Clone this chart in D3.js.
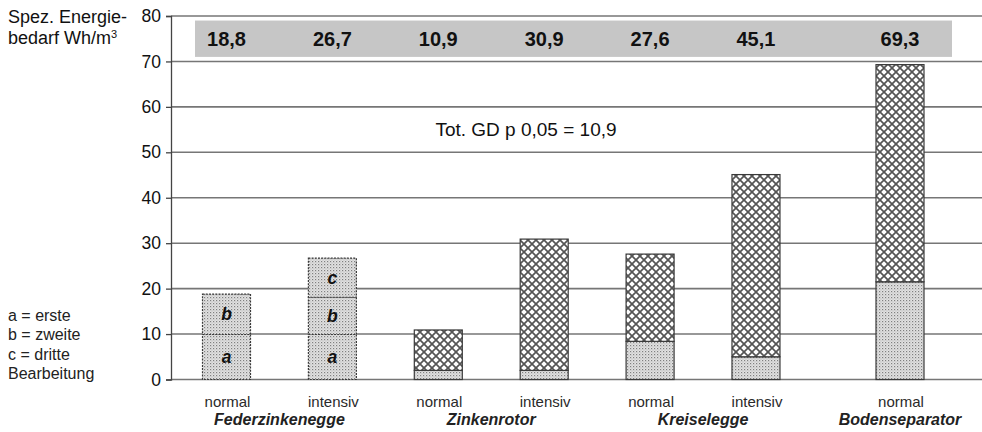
<!DOCTYPE html>
<html><head><meta charset="utf-8">
<script src="https://cdn.jsdelivr.net/npm/d3@7"></script>
<style>body{margin:0;background:#fff;} svg{display:block;font-family:"Liberation Sans",Arial,Helvetica,sans-serif;}</style>
</head><body><svg id="c" width="982" height="432"></svg>
<script>
// ---- data ----
const groups = ["Federzinkenegge", "Zinkenrotor", "Kreiselegge", "Bodenseparator"];
const barGroup = [0, 0, 1, 1, 2, 2, 3];
const variants = ["normal", "intensiv", "normal", "intensiv", "normal", "intensiv", "normal"];
const totals = [18.8, 26.7, 10.9, 30.9, 27.6, 45.1, 69.3];
const totalLabels = ["18,8", "26,7", "10,9", "30,9", "27,6", "45,1", "69,3"];
const passA = [9.9, 9.9, 2.0, 2.0, 8.4, 5.0, 21.5];   // dotted (a = erste)
const passB = [8.9, 8.2, 0, 0, 0, 0, 0];             // dotted (b = zweite)
const passC = [0, 8.6, 0, 0, 0, 0, 0];               // dotted (c = dritte)
const yTicks = [0, 10, 20, 30, 40, 50, 60, 70, 80];
const legendLines = ["a = erste", "b = zweite", "c = dritte", "Bearbeitung"];
const lsdText = "Tot. GD p 0,05 = 10,9";

// ---- layout ----
const svg = d3.select("#c");
const axisX = 171, y0 = 379.5, yTop = 16;
const y = d3.scaleLinear().domain([0, 80]).range([y0, yTop]);
const slot = i => i + (barGroup[i] === 3 ? 0.36 : 0);
const x = d3.scaleLinear().domain([0, 6.36]).range([226.5, 900]);
const bw = 48;

// patterns
const defs = svg.append("defs");
const dot = defs.append("pattern").attr("id", "dots").attr("patternUnits", "userSpaceOnUse")
  .attr("width", 3).attr("height", 3);
dot.append("rect").attr("width", 3).attr("height", 3).attr("fill", "#e2e2e2");
dot.append("rect").attr("x", 0).attr("y", 0).attr("width", 1.2).attr("height", 1.2).attr("fill", "#808080");
dot.append("rect").attr("x", 1.5).attr("y", 1.5).attr("width", 1).attr("height", 1).attr("fill", "#aaaaaa");
const hat = defs.append("pattern").attr("id", "hatch").attr("patternUnits", "userSpaceOnUse")
  .attr("width", 8).attr("height", 8);
hat.append("rect").attr("width", 8).attr("height", 8).attr("fill", "#fff");
hat.append("path").attr("d", "M-1,-1L9,9M9,-1L-1,9").attr("stroke", "#555").attr("stroke-width", 1.7);

// grey band with totals
svg.append("rect").attr("x", 195).attr("y", y(79)).attr("width", 952 - 195).attr("height", y(71) - y(79))
  .attr("fill", "#c6c6c6");
svg.selectAll("text.tot").data(totals).enter().append("text").attr("class", "tot")
  .attr("x", (d, i) => x(slot(i))).attr("y", y(75) + 7.5).attr("text-anchor", "middle")
  .attr("font-size", 20).attr("font-weight", "bold").attr("fill", "#111")
  .text((d, i) => totalLabels[i]);

// gridlines
svg.selectAll("line.grid").data(yTicks).enter().append("line").attr("class", "grid")
  .attr("x1", axisX).attr("x2", 982).attr("y1", d => y(d)).attr("y2", d => y(d))
  .attr("stroke", "#767676").attr("stroke-width", 1.6);

// axis
const ax = svg.append("g").attr("transform", `translate(${axisX},0)`)
  .call(d3.axisLeft(y).tickValues(yTicks).tickSize(5).tickPadding(5).tickFormat(d3.format("d")));
ax.select(".domain").attr("stroke", "#444").attr("stroke-width", 1.3);
ax.selectAll(".tick line").attr("stroke", "#444").attr("stroke-width", 1.3);
ax.selectAll(".tick text").attr("font-size", 17.5).attr("fill", "#111")
  .attr("font-family", "'Liberation Sans',Arial,sans-serif");

// bars
const bars = totals.map((t, i) => {
  const segs = [];
  let base = 0;
  [[passA[i], "a"], [passB[i], "b"], [passC[i], "c"]].forEach(([v, l]) => {
    if (v > 0) { segs.push({ y0: base, y1: base + v, fill: "url(#dots)", label: barGroup[i] === 0 ? l : null, dashed: barGroup[i] === 0 }); base += v; }
  });
  const rest = +(t - base).toFixed(2);
  if (rest > 0) segs.push({ y0: base, y1: t, fill: "url(#hatch)", label: null, dashed: false });
  return { i, segs };
});
const bg = svg.selectAll("g.bar").data(bars).enter().append("g").attr("class", "bar");
bg.selectAll("rect").data(b => b.segs.map(s => ({ ...s, i: b.i }))).enter().append("rect")
  .attr("x", d => x(slot(d.i)) - bw / 2).attr("width", bw)
  .attr("y", d => y(d.y1)).attr("height", d => y(d.y0) - y(d.y1))
  .attr("fill", d => d.fill).attr("stroke", "#3a3a3a").attr("stroke-width", 1.2)
  .attr("stroke-dasharray", d => d.dashed ? "2,1.2" : null);
bg.selectAll("text").data(b => b.segs.filter(s => s.label).map(s => ({ ...s, i: b.i }))).enter().append("text")
  .attr("x", d => x(slot(d.i))).attr("y", d => (y(d.y0) + y(d.y1)) / 2 + 6)
  .attr("text-anchor", "middle").attr("font-size", 17.5).attr("font-weight", "bold").attr("font-style", "italic")
  .attr("fill", "#111").text(d => d.label);

// x labels
svg.selectAll("text.var").data(variants).enter().append("text").attr("class", "var")
  .attr("x", (d, i) => x(slot(i)) + 1).attr("y", 407).attr("text-anchor", "middle")
  .attr("font-size", 15).attr("fill", "#2a2a2a").text(d => d);
svg.selectAll("text.grp").data(groups).enter().append("text").attr("class", "grp")
  .attr("x", (g, gi) => d3.mean(barGroup.map((b, i) => b === gi ? x(slot(i)) : null).filter(v => v !== null)))
  .attr("y", 425).attr("text-anchor", "middle")
  .attr("font-size", 16).attr("font-weight", "bold").attr("font-style", "italic").attr("fill", "#222").text(d => d);

// LSD note
svg.append("text").attr("x", 526).attr("y", y(55) + 6.5).attr("text-anchor", "middle")
  .attr("font-size", 19).attr("fill", "#111").text(lsdText);

// y title
const yt = svg.append("text").attr("x", 8).attr("font-size", 18).attr("fill", "#111");
yt.append("tspan").attr("x", 8).attr("y", 23).text("Spez. Energie-");
yt.append("tspan").attr("x", 8).attr("y", 44).text("bedarf Wh/m");
yt.append("tspan").attr("font-size", 11).attr("dy", -6).text("3");

// legend
svg.selectAll("text.leg").data(legendLines).enter().append("text").attr("class", "leg")
  .attr("x", 8).attr("y", (d, i) => 320.5 + i * 19.5).attr("font-size", 16).attr("fill", "#222").text(d => d);
</script>
</body></html>
